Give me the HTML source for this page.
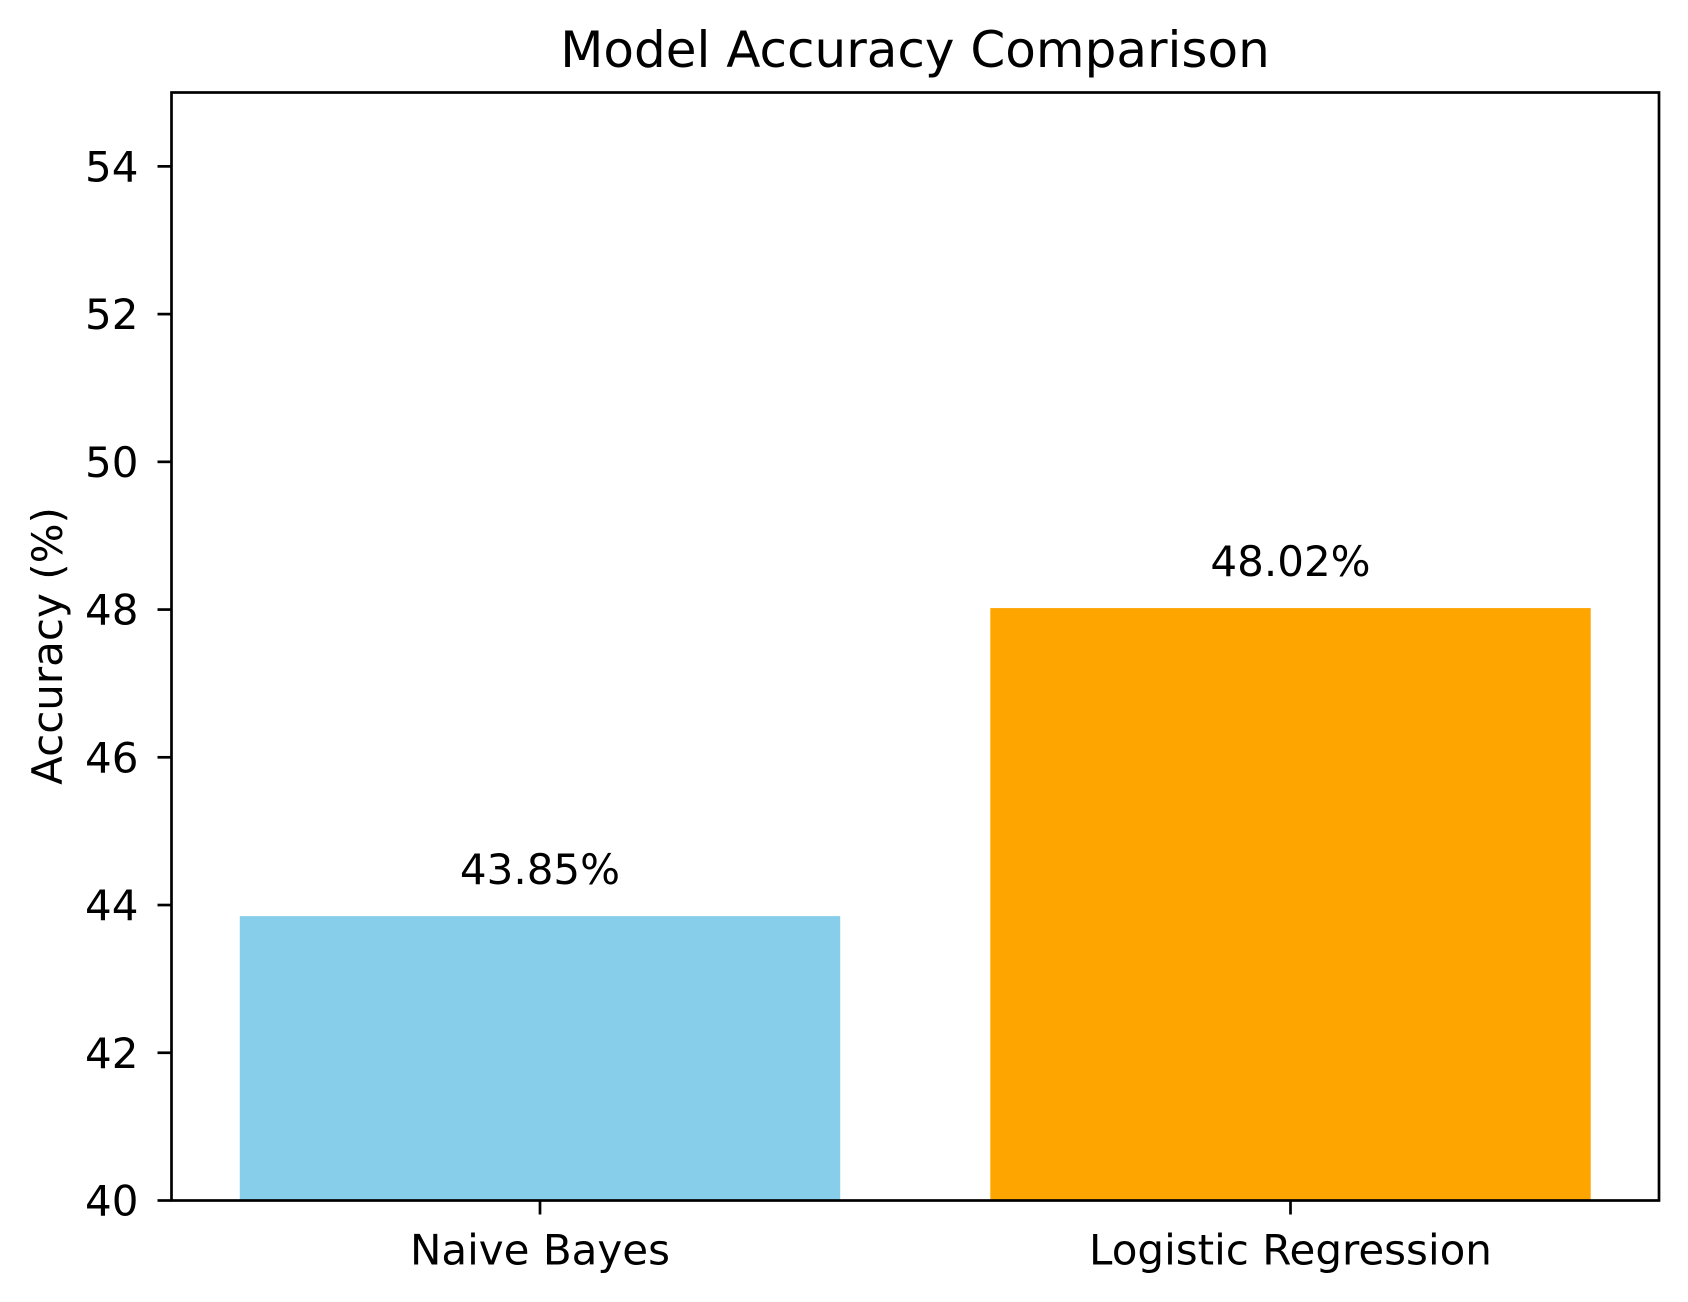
<!DOCTYPE html>
<html><head><meta charset="utf-8"><style>
html,body{margin:0;padding:0;background:#fff;}
svg{display:block;font-family:"DejaVu Sans","Liberation Sans",sans-serif;}
</style></head><body>
<svg id="chart" width="1688" height="1302" viewBox="0 0 1688 1302" xmlns="http://www.w3.org/2000/svg">
<rect width="1688" height="1302" fill="#fff"/>
<text x="915" y="67" font-size="50" text-anchor="middle" fill="#000">Model Accuracy Comparison</text>
<text transform="translate(62,646) rotate(-90)" font-size="42" text-anchor="middle" fill="#000">Accuracy (%)</text>
<g id="marks"></g>
<g id="axes"></g>
</svg>
<script>
const categories = ["Naive Bayes", "Logistic Regression"];
const accuracyValues = [43.85, 48.02];
const barColors = ["#87ceeb", "#ffa500"];
const yTicks = [40, 42, 44, 46, 48, 50, 52, 54];

const L = 171.5, R = 1659, T = 92.5, B = 1200.5;
const yMin = 40, yMax = 55, xMin = -0.491, xMax = 1.491;
const ns = "http://www.w3.org/2000/svg";
function yS(v){ return B - (v - yMin) / (yMax - yMin) * (B - T); }
function xS(v){ return L + (v - xMin) / (xMax - xMin) * (R - L); }
function mk(tag, attrs, parent){ const e = document.createElementNS(ns, tag); for (const k in attrs) e.setAttribute(k, attrs[k]); parent.appendChild(e); return e; }

const marks = document.getElementById("marks");
const axes = document.getElementById("axes");
categories.forEach((c, i) => {
  const x0 = xS(i - 0.4), x1 = xS(i + 0.4);
  const r = mk("rect", {x: x0, y: yS(accuracyValues[i]), width: x1 - x0, height: B - yS(accuracyValues[i]), fill: barColors[i]}, marks);
  
  
  const t = mk("text", {x: xS(i), y: yS(accuracyValues[i]) - 32, "font-size": 42, "text-anchor": "middle", fill: "#000"}, marks);
  t.textContent = accuracyValues[i].toFixed(2) + "%";
  
  
  const tk = mk("line", {x1: xS(i), x2: xS(i), y1: B, y2: B + 14, stroke: "#000", "stroke-width": 2.7}, axes);
  
  
  const xl = mk("text", {x: xS(i), y: B + 64, "font-size": 42, "text-anchor": "middle", fill: "#000"}, axes);
  xl.textContent = c;
  
  
});
yTicks.forEach(v => {
  const tk = mk("line", {x1: L - 14, x2: L, y1: yS(v), y2: yS(v), stroke: "#000", "stroke-width": 2.7}, axes);
  
  
  const yl = mk("text", {x: L - 33, y: yS(v) + 15, "font-size": 42, "text-anchor": "end", fill: "#000"}, axes);
  yl.textContent = v;
  
  
});
const frame = mk("rect", {x: L, y: T, width: R - L, height: B - T, fill: "none", stroke: "#000", "stroke-width": 2.7}, axes);


</script>
</body></html>
